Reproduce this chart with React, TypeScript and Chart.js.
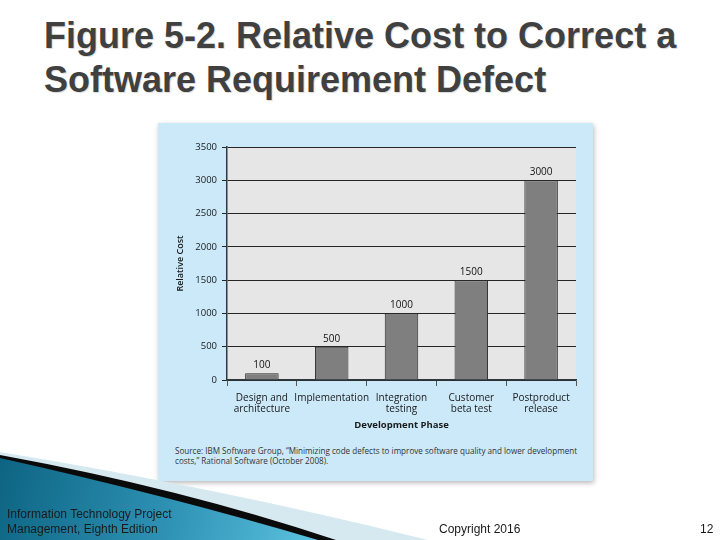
import { useEffect, useRef } from 'react';
import { Chart } from 'chart.js/auto';

const phases = [
  ['Design and', 'architecture'],
  'Implementation',
  ['Integration', 'testing'],
  ['Customer', 'beta test'],
  ['Postproduct', 'release'],
];
const relativeCost = [100, 500, 1000, 1500, 3000];
const yMax = 3500;
const yStep = 500;

const chartFont = '"Open Sans", "DejaVu Sans", sans-serif';

// value labels drawn above every bar
const barValues = {
  id: 'barValues',
  afterDatasetsDraw(chart: any) {
    const { ctx } = chart;
    const meta = chart.getDatasetMeta(0);
    ctx.save();
    ctx.font = `10px ${chartFont}`;
    ctx.fillStyle = '#111';
    ctx.textAlign = 'center';
    ctx.textBaseline = 'middle';
    meta.data.forEach((bar: any, i: number) => {
      ctx.fillText(String(relativeCost[i]), bar.x, bar.y - 8);
    });
    ctx.restore();
  },
};

// grey plot background
const plotBackground = {
  id: 'plotBackground',
  beforeDraw(chart: any) {
    const { ctx, chartArea } = chart;
    ctx.save();
    ctx.fillStyle = '#e6e6e6';
    ctx.fillRect(chartArea.left, chartArea.top, chartArea.right - chartArea.left, chartArea.bottom - chartArea.top);
    ctx.restore();
  },
};

function CostChart() {
  const canvasRef = useRef<HTMLCanvasElement>(null);

  useEffect(() => {
    const el = canvasRef.current;
    if (!el) return;

    const chart = new Chart(el, {
      type: 'bar',
      data: {
        labels: phases,
        datasets: [
          {
            label: 'Relative Cost',
            data: relativeCost,
            backgroundColor: '#7f7f7f',
            borderColor: '#2a2a2a',
            borderWidth: 1,
            categoryPercentage: 1,
            barPercentage: 0.48,
          },
        ],
      },
      options: {
        responsive: false,
        animation: false,
        layout: {
          padding: { top: 24, right: 17, bottom: 0, left: 0 },
        },
        plugins: {
          legend: { display: false },
          tooltip: { enabled: false },
        },
        scales: {
          x: {
            grid: {
              drawOnChartArea: false,
              drawTicks: true,
              tickLength: 6,
              offset: true,
              color: '#555',
            },
            border: { color: '#2e3a40', width: 1.5 },
            ticks: {
              color: '#1a1a1a',
              padding: 7,
              maxRotation: 0,
              autoSkip: false,
              font: { family: chartFont, size: 10, lineHeight: 1.1 },
            },
            title: {
              display: true,
              text: 'Development Phase',
              color: '#1a1a1a',
              font: { family: chartFont, size: 9.5, weight: 'bold', lineHeight: 1.2 },
              padding: { top: 0, bottom: 7 },
            },
            afterFit(scale: any) {
              scale.height = 58;
            },
          },
          y: {
            min: 0,
            max: yMax,
            grid: {
              color: '#262626',
              lineWidth: 1,
              tickLength: 5,
            },
            border: { color: '#2e3a40', width: 1.5 },
            ticks: {
              stepSize: yStep,
              color: '#1a1a1a',
              padding: 5,
              font: { family: chartFont, size: 9.5 },
              callback: (value: any) => String(value),
            },
            title: {
              display: true,
              text: 'Relative Cost',
              color: '#1a1a1a',
              font: { family: chartFont, size: 9, weight: 600, lineHeight: 1.2 },
              padding: { top: 17, bottom: 0 },
            },
            afterFit(scale: any) {
              scale.width = 69;
            },
          },
        },
      },
      plugins: [plotBackground, barValues],
    });

    return () => {
      chart.destroy();
    };
  }, []);

  return <canvas ref={canvasRef} width={435} height={315} style={{ position: 'absolute', left: 0, top: 0 }} />;
}

export default function App() {
  return (
    <div
      style={{
        position: 'fixed',
        left: 0,
        top: 0,
        width: 720,
        height: 540,
        background: '#fff',
        overflow: 'hidden',
        fontFamily: '"Liberation Sans", Arial, sans-serif',
      }}
    >
      <div
        style={{
          position: 'absolute',
          left: 44,
          top: 13.5,
          fontSize: 36,
          fontWeight: 'bold',
          lineHeight: '44px',
          color: '#404040',
          whiteSpace: 'nowrap',
          textShadow: '1px 1px 1px rgba(0,0,0,0.15)',
        }}
      >
        Figure 5-2. Relative Cost to Correct a
        <br />
        Software Requirement Defect
      </div>

      <div
        style={{
          position: 'absolute',
          left: 158,
          top: 123,
          width: 435,
          height: 358,
          background: '#cbe9f9',
          boxShadow: '1px 2px 5px rgba(0,0,0,0.28)',
        }}
      >
        <CostChart />
        <div
          style={{
            position: 'absolute',
            left: 17,
            top: 323,
            fontFamily: chartFont,
            fontSize: 8.1,
            lineHeight: '10px',
            color: '#333',
            whiteSpace: 'nowrap',
          }}
        >
          Source: IBM Software Group, “Minimizing code defects to improve software quality and lower development
          <br />
          costs,” Rational Software (October 2008).
        </div>
      </div>

      <svg width={720} height={540} style={{ position: 'absolute', left: 0, top: 0 }}>
        <defs>
          <linearGradient id="teal" x1="0" y1="460" x2="320" y2="540" gradientUnits="userSpaceOnUse">
            <stop offset="0" stopColor="#0d6482" />
            <stop offset="0.55" stopColor="#2f93b6" />
            <stop offset="1" stopColor="#5cc3df" />
          </linearGradient>
        </defs>
        <path d="M0 452 Q 220 488 428 540 L 0 540 Z" fill="#d6e9f1" />
        <path d="M0 455 Q 180 488 336 540 L 0 540 Z" fill="#0a0a0a" />
        <path d="M0 458 Q 170 496 318 540 L 0 540 Z" fill="url(#teal)" />
      </svg>

      <div
        style={{
          position: 'absolute',
          left: 7,
          top: 507,
          fontSize: 12,
          lineHeight: '15px',
          color: '#1a1a1a',
          whiteSpace: 'nowrap',
        }}
      >
        Information Technology Project
        <br />
        Management, Eighth Edition
      </div>
      <div style={{ position: 'absolute', left: 439, top: 522, fontSize: 12, lineHeight: '15px', color: '#1a1a1a' }}>
        Copyright 2016
      </div>
      <div style={{ position: 'absolute', left: 700, top: 522, fontSize: 12, lineHeight: '15px', color: '#1a1a1a' }}>
        12
      </div>
    </div>
  );
}
